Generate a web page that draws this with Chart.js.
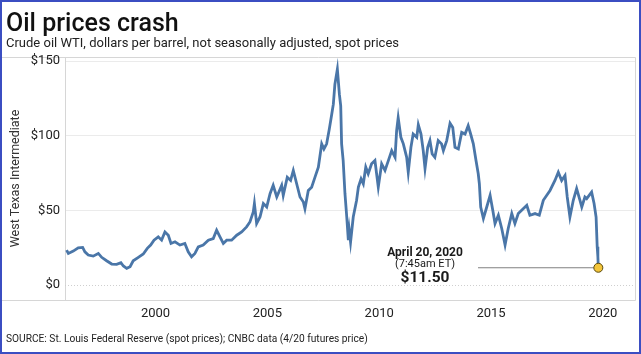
<!DOCTYPE html>
<html>
<head>
<meta charset="utf-8">
<script src="https://cdn.jsdelivr.net/npm/chart.js@4"></script>
<style>
  html, body { margin: 0; padding: 0; background: #fff; }
  canvas { display: block; }
</style>
</head>
<body>
<canvas id="oilChart" width="641" height="354"></canvas>
<script>
// WTI spot price (year, $ per barrel)
const YEARS = [
  1996.02,1996.10,1996.32,1996.54,1996.74,1996.84,1996.99,1997.21,1997.44,1997.59,
  1997.81,1998.04,1998.26,1998.45,1998.56,1998.71,1998.86,1999.00,1999.23,1999.45,
  1999.63,1999.78,1999.93,2000.12,2000.27,2000.42,2000.57,2000.69,2000.87,2001.09,
  2001.31,2001.46,2001.61,2001.76,2001.91,2002.13,2002.36,2002.58,2002.73,2002.88,
  2003.03,2003.18,2003.40,2003.63,2003.85,2004.07,2004.22,2004.37,2004.42,2004.52,
  2004.67,2004.82,2004.97,2005.12,2005.26,2005.42,2005.64,2005.71,2005.89,2006.04,
  2006.16,2006.31,2006.46,2006.61,2006.68,2006.83,2006.98,2007.13,2007.28,2007.43,
  2007.53,2007.65,2007.77,2007.88,2007.95,2008.02,2008.13,2008.22,2008.28,2008.32,
  2008.39,2008.47,2008.55,2008.62,2008.66,2008.72,2008.84,2008.99,2009.07,2009.19,
  2009.29,2009.40,2009.51,2009.66,2009.81,2009.96,2010.11,2010.26,2010.41,2010.56,
  2010.71,2010.78,2010.85,2010.97,2011.08,2011.23,2011.30,2011.42,2011.52,2011.68,
  2011.75,2011.87,2011.97,2012.05,2012.17,2012.27,2012.37,2012.49,2012.64,2012.79,
  2012.87,2013.02,2013.17,2013.29,2013.39,2013.54,2013.69,2013.84,2013.98,2014.09,
  2014.21,2014.33,2014.43,2014.48,2014.54,2014.66,2014.81,2014.96,2015.08,2015.18,
  2015.33,2015.48,2015.63,2015.77,2015.93,2016.07,2016.22,2016.44,2016.60,2016.74,
  2016.97,2017.16,2017.34,2017.64,2017.86,2018.01,2018.16,2018.31,2018.41,2018.53,
  2018.68,2018.83,2018.98,2019.06,2019.20,2019.28,2019.50,2019.61,2019.70,2019.75,
  2019.78,2019.80
];
const PRICES = [
  23.3,21.1,22.7,24.9,25.1,22.2,20.0,19.3,21.1,18.5,
  16.2,14.0,13.8,14.9,12.7,11.1,12.2,16.2,18.5,20.7,
  24.5,26.7,30.0,32.2,30.0,35.5,33.3,27.8,28.9,26.7,
  27.8,22.2,18.9,21.1,25.5,26.7,30.0,31.1,36.7,32.2,
  27.8,30.0,30.0,33.3,35.5,38.9,42.2,48.9,54.5,41.1,
  45.5,54.5,52.2,61.1,66.7,58.9,66.7,60.0,72.2,70.0,
  76.7,67.8,58.9,55.5,51.1,63.3,65.5,72.2,78.9,94.5,
  91.1,94.5,104.5,114.5,121.1,134.5,144.5,127.8,120.0,94.5,
  83.3,61.1,45.5,30.0,36.7,28.7,45.5,56.7,65.5,71.1,
  67.8,78.9,74.5,81.1,83.3,65.5,81.1,76.7,83.3,90.0,
  85.5,103.3,112.0,98.9,94.5,85.5,75.5,92.2,101.1,98.9,
  107.3,101.1,90.0,78.0,92.2,96.7,87.8,85.5,96.7,94.5,
  90.0,96.7,108.3,105.5,92.2,91.1,102.2,101.1,106.7,101.1,
  94.5,83.3,74.5,67.8,52.2,44.5,52.2,60.0,50.0,41.1,
  46.7,37.8,26.7,37.8,47.8,41.1,47.8,51.1,53.3,46.7,
  47.8,46.7,56.7,63.3,70.0,75.5,70.0,73.3,58.9,45.5,
  56.7,64.5,56.7,52.2,58.9,57.8,62.2,54.5,45.5,25.5,
  18.9,11.5
];

// April 20 futures price callout
const CALLOUT_PRICE = 11.5;
const CALLOUT_YEAR = 2019.80;
const LEADER_YEARS = [2014.42, 2019.80];
const CALLOUT_LABEL_YEAR = 2012.05;
const CALLOUT_LINES = ['April 20, 2020', '(7:45am ET)', '$11.50'];

const X_TICKS = [2000, 2005, 2010, 2015, 2020];
const Y_TICKS = [0, 50, 100, 150];

const TITLE = 'Oil prices crash';
const SUBTITLE = 'Crude oil WTI, dollars per barrel, not seasonally adjusted, spot prices';
const SOURCE = 'SOURCE: St. Louis Federal Reserve (spot prices); CNBC data (4/20 futures price)';
const Y_TITLE = 'West Texas Intermediate';

const FONT = 'Roboto, "Liberation Sans", Arial, sans-serif';

// frame, texts, dotted zero line
const decorPlugin = {
  id: 'decor',
  beforeDraw(chart) {
    const c = chart.ctx;
    const a = chart.chartArea;
    c.save();
    c.fillStyle = '#fff';
    c.fillRect(0, 0, chart.width, chart.height);
    // light grey panel around plot
    c.strokeStyle = '#d6d6d6';
    c.lineWidth = 1;
    c.beginPath();
    c.moveTo(2, a.top + 0.5); c.lineTo(a.right + 0.5, a.top + 0.5);
    c.lineTo(a.right + 0.5, a.bottom + 0.5); c.lineTo(2, a.bottom + 0.5);
    c.stroke();
    c.restore();
  },
  beforeDatasetsDraw(chart) {
    const c = chart.ctx;
    const a = chart.chartArea;
    const y0 = chart.scales.y.getPixelForValue(0);
    c.save();
    c.strokeStyle = '#cfcfcf';
    c.lineWidth = 1;
    c.setLineDash([1, 2]);
    c.beginPath();
    c.moveTo(a.left, Math.round(y0) + 0.5);
    c.lineTo(a.right, Math.round(y0) + 0.5);
    c.stroke();
    c.restore();
  },
  afterDraw(chart) {
    const c = chart.ctx;
    const xs = chart.scales.x, ys = chart.scales.y;
    c.save();
    // blue outer frame
    c.strokeStyle = '#3b4ec2';
    c.lineWidth = 2;
    c.strokeRect(1, 1, chart.width - 2, chart.height - 2);

    // titles
    c.fillStyle = '#111';
    c.textAlign = 'left';
    c.textBaseline = 'alphabetic';
    c.font = '500 25px ' + FONT;
    c.fillText(TITLE, 6, 31);
    c.fillStyle = '#222';
    c.font = '13px ' + FONT;
    c.fillText(SUBTITLE, 6, 46.5);
    c.font = '10.2px ' + FONT;
    c.fillText(SOURCE, 6, 342);

    // callout text
    const lx = xs.getPixelForValue(CALLOUT_LABEL_YEAR);
    const py = ys.getPixelForValue(CALLOUT_PRICE);
    c.textAlign = 'center';
    c.fillStyle = '#1a1a1a';
    c.font = 'bold 12px ' + FONT;
    c.fillText(CALLOUT_LINES[0], lx, py - 12);
    c.font = '11px ' + FONT;
    c.fillText(CALLOUT_LINES[1], lx, py - 1);
    c.font = 'bold 15.5px ' + FONT;
    c.fillText(CALLOUT_LINES[2], lx, py + 14);
    c.restore();
  }
};

const ctx = document.getElementById('oilChart').getContext('2d');

const data = {
  datasets: [
    {
      label: 'WTI',
      data: YEARS.map((x, i) => ({ x: x, y: PRICES[i] })),
      borderColor: '#4a76a8',
      borderWidth: 2.8,
      pointRadius: 0,
      tension: 0,
      order: 2
    },
    {
      label: 'leader',
      data: LEADER_YEARS.map(x => ({ x: x, y: CALLOUT_PRICE })),
      borderColor: '#808080',
      borderWidth: 1,
      pointRadius: 0,
      order: 1
    },
    {
      label: 'April 20',
      data: [{ x: CALLOUT_YEAR, y: CALLOUT_PRICE }],
      showLine: false,
      pointRadius: 4.5,
      pointBackgroundColor: '#f3c53a',
      pointBorderColor: '#5a4a10',
      pointBorderWidth: 1,
      order: 0
    }
  ]
};

const config = {
  type: 'line',
  data: data,
  plugins: [decorPlugin],
  options: {
    responsive: false,
    animation: false,
    layout: { padding: { top: 57, right: 6, bottom: 0, left: 0 } },
    plugins: {
      legend: { display: false },
      tooltip: { enabled: false }
    },
    scales: {
      x: {
        type: 'linear',
        min: 1995.95,
        max: 2021.44,
        afterBuildTicks: s => { s.ticks = X_TICKS.map(v => ({ value: v })); },
        afterFit: s => { s.height = 54; },
        grid: { display: false, drawTicks: false },
        border: { display: false },
        ticks: {
          padding: 6,
          maxRotation: 0,
          autoSkip: false,
          color: '#222',
          font: { family: FONT, size: 13 },
          callback: v => String(v)
        }
      },
      y: {
        min: -10.1,
        max: 152.7,
        afterBuildTicks: s => { s.ticks = Y_TICKS.map(v => ({ value: v })); },
        afterFit: s => { s.width = 65; },
        grid: {
          drawTicks: false,
          color: c => (c.tick && c.tick.value === 0) ? 'rgba(0,0,0,0)' : '#ebebeb',
          lineWidth: 1
        },
        border: { display: true, color: '#d6d6d6' },
        ticks: {
          padding: 5,
          color: '#222',
          font: { family: FONT, size: 13 },
          callback: v => '$' + v
        },
        title: {
          display: true,
          text: Y_TITLE,
          color: '#333',
          font: { family: FONT, size: 12.5 },
          padding: { top: 8, bottom: 0 }
        }
      }
    }
  }
};

new Chart(ctx, config);
</script>
</body>
</html>
